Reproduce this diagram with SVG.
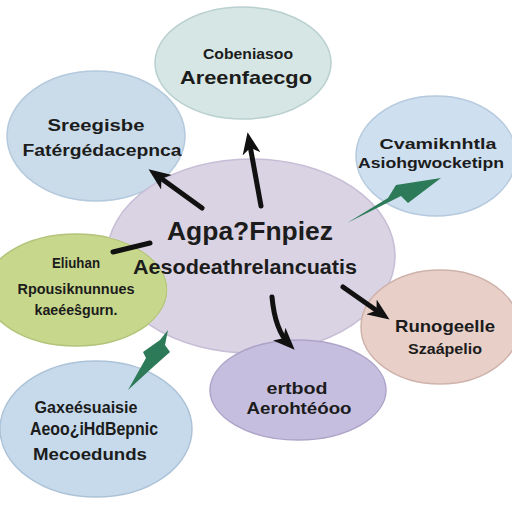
<svg xmlns="http://www.w3.org/2000/svg" width="512" height="512" viewBox="0 0 512 512">
<style>
text{font-family:"Liberation Sans","DejaVu Sans",Arial,sans-serif;fill:#1c1c1c;text-anchor:middle;font-weight:bold}
.node ellipse{stroke-width:1.5}
.arr{fill:none;stroke:#111;stroke-width:5;stroke-linecap:round}
.garr{fill:#2d7a58}
</style>
<defs>
<marker id="ah" viewBox="0 0 22 18" refX="14" refY="9" markerWidth="22" markerHeight="18" markerUnits="userSpaceOnUse" orient="auto">
<path d="M0,0 L22,9 L0,18 L6,9 Z" fill="#111"/>
</marker>
<mask id="cut-left" maskUnits="userSpaceOnUse" x="0" y="0" width="512" height="512">
<rect width="512" height="512" fill="#fff"/>
<ellipse cx="76" cy="290" rx="91.5" ry="56.5" fill="#000"/>
</mask>
</defs>
<rect width="512" height="512" fill="#ffffff"/>
<g id="node-topleft" class="node">
<ellipse cx="96" cy="136" rx="89" ry="65" fill="#cadcea" stroke="#b4c9dc"/>
<text x="96" y="131" font-size="17" textLength="97" lengthAdjust="spacingAndGlyphs">Sreegisbe</text>
<text x="102" y="156" font-size="16" textLength="159" lengthAdjust="spacingAndGlyphs">Fatérgédacepnca</text>
</g>
<g id="node-top" class="node">
<ellipse cx="243" cy="63" rx="88" ry="56" fill="#d5e6e4" stroke="#b9d0cf"/>
<text x="248" y="59" font-size="15" textLength="90" lengthAdjust="spacingAndGlyphs">Cobeniasoo</text>
<text x="246" y="84" font-size="19" textLength="132" lengthAdjust="spacingAndGlyphs">Areenfaecgo</text>
</g>
<g id="node-left" class="node">
<ellipse cx="76" cy="290" rx="91" ry="56" fill="#c7d78c" stroke="#b3c47a"/>
<text x="76" y="268" font-size="14" textLength="48" lengthAdjust="spacingAndGlyphs">Eliuhan</text>
<text x="76" y="294" font-size="14" textLength="117" lengthAdjust="spacingAndGlyphs">Rpousiknunnues</text>
<text x="76" y="315" font-size="14" textLength="83" lengthAdjust="spacingAndGlyphs">kaeéeŝgurn.</text>
</g>
<g id="node-center" class="node">
<ellipse cx="251" cy="256" rx="144" ry="97" fill="#dad3e3" stroke="#c7bdd6" mask="url(#cut-left)"/>
<text x="250" y="240" font-size="25" textLength="166" lengthAdjust="spacingAndGlyphs">Agpa?Fnpiez</text>
<text x="245" y="274" font-size="21" textLength="224" lengthAdjust="spacingAndGlyphs">Aesodeathrelancuatis</text>
</g>
<g id="node-topright" class="node">
<ellipse cx="436" cy="156" rx="80" ry="60" fill="#cedff0" stroke="#b5c9dd"/>
<text x="438" y="149" font-size="15" textLength="117" lengthAdjust="spacingAndGlyphs">Cvamiknhtla</text>
<text x="431" y="168" font-size="15" textLength="146" lengthAdjust="spacingAndGlyphs">Asiohgwocketipn</text>
</g>
<g id="node-right" class="node">
<ellipse cx="440" cy="327" rx="79" ry="57" fill="#e8d0c9" stroke="#cfb3ab"/>
<text x="445" y="332" font-size="17" textLength="100" lengthAdjust="spacingAndGlyphs">Runogeelle</text>
<text x="445" y="354" font-size="14" textLength="74" lengthAdjust="spacingAndGlyphs">Szaápelio</text>
</g>
<g id="node-bottom" class="node">
<ellipse cx="298" cy="390" rx="88" ry="50" fill="#c6bede" stroke="#ada4c8"/>
<text x="297" y="394" font-size="17" textLength="61" lengthAdjust="spacingAndGlyphs">ertbod</text>
<text x="299" y="414" font-size="17" textLength="105" lengthAdjust="spacingAndGlyphs">Aerohtéóoo</text>
</g>
<g id="node-bottomleft" class="node">
<ellipse cx="96" cy="429" rx="96" ry="68" fill="#c6daeb" stroke="#adc3d8"/>
<text x="86" y="413" font-size="16" textLength="103" lengthAdjust="spacingAndGlyphs">Gaxeésuaisie</text>
<text x="94" y="435" font-size="18" textLength="128" lengthAdjust="spacingAndGlyphs">Aeoo¿iHdBepnic</text>
<text x="90" y="460" font-size="16" textLength="114" lengthAdjust="spacingAndGlyphs">Mecoedunds</text>
</g>
<g id="connectors">
<path class="arr" d="M202,208 L155,174" marker-end="url(#ah)"/>
<path class="arr" d="M261,206 L249,140" marker-end="url(#ah)"/>
<path class="arr" d="M113,252 L150,243" stroke-width="6"/>
<path class="arr" d="M272,297 Q275,330 289,344" marker-end="url(#ah)"/>
<path class="arr" d="M343,287 L383,315" marker-end="url(#ah)"/>
<path class="garr" d="M347,223 L388,198 L396,185 L441,178 L408,203 L401,196 Z"/>
<path class="garr" d="M168,330 L165,345 L170,352 L152,368 L128,390 L146,358 L143,352 L160,340 Z"/>
</g>
</svg>
